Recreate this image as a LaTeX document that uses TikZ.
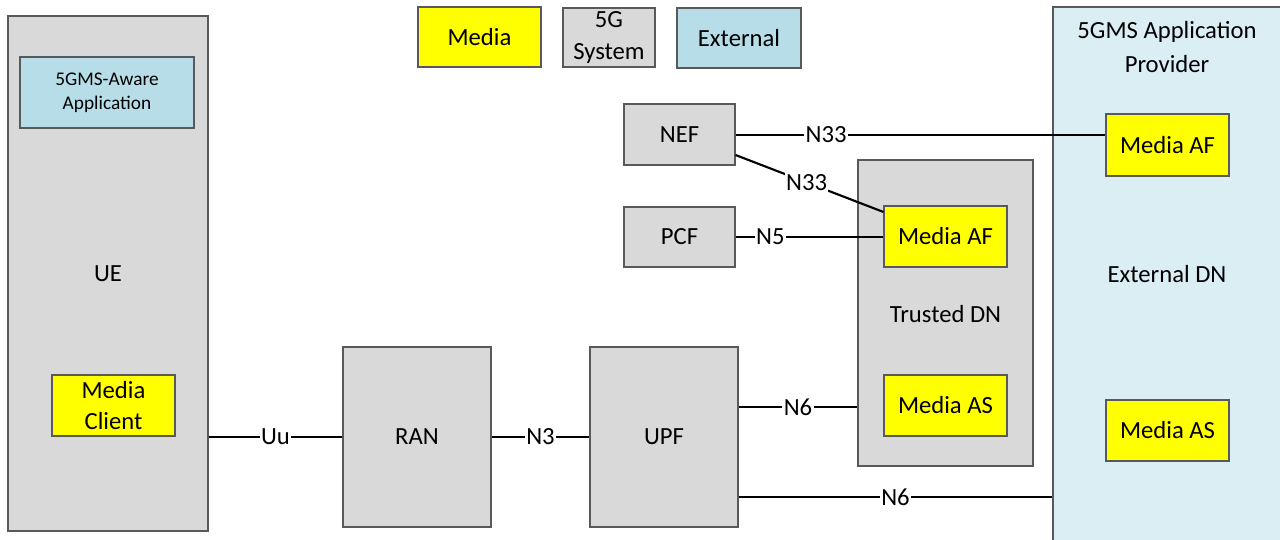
\documentclass[tikz,border=0pt]{standalone}
\usepackage{fontspec}
\setmainfont{Carlito}
\definecolor{boxgray}{HTML}{D9D9D9}
\definecolor{medyellow}{HTML}{FFFF00}
\definecolor{extblue}{HTML}{B7DEE8}
\definecolor{dnblue}{HTML}{DAEEF3}
\definecolor{edge}{HTML}{595959}
\newcommand{\bigtxt}{\fontsize{18.5}{23.5}\selectfont}
\newcommand{\smalltxt}{\fontsize{14.5}{18}\selectfont}
\tikzset{
  fnbox/.style={draw=edge, line width=0.8pt, inner sep=0pt, align=center, font=\bigtxt},
  sysbox/.style={fnbox, fill=boxgray},
  medbox/.style={fnbox, fill=medyellow, minimum width=123*0.75pt, minimum height=61*0.75pt},
  extbox/.style={fnbox, fill=extblue},
  link/.style={line width=1.6pt, black},
  lbl/.style={fill=white, inner sep=1pt, font=\bigtxt},
  plain/.style={inner sep=0pt, align=center, font=\bigtxt}
}
\begin{document}
\begin{tikzpicture}[x=0.75pt, y=-0.75pt]
\useasboundingbox (0,0) rectangle (1280,539);
\clip (0,0) rectangle (1280,539);
% legend
\node[medbox, minimum width=123*0.75pt, minimum height=60*0.75pt] (lgmedia) at (479.5,37) {Media};
\node[sysbox, minimum width=92*0.75pt, minimum height=59*0.75pt] (lg5g) at (609,37.5) {5G\\System};
\node[extbox, minimum width=124*0.75pt, minimum height=60*0.75pt] (lgext) at (739,38) {External};
% UE
\node[sysbox, minimum width=200*0.75pt, minimum height=515*0.75pt] (ue) at (108,273.5) {UE};
\node[extbox, minimum width=174*0.75pt, minimum height=71*0.75pt, font=\smalltxt] (app) at (107,92.5) {5GMS-Aware\\Application};
\node[medbox] (mc) at (113.5,405.5) {Media\\Client};
% RAN, UPF
\node[sysbox, minimum width=148*0.75pt, minimum height=180*0.75pt] (ran) at (417,437) {RAN};
\node[sysbox, minimum width=148*0.75pt, minimum height=180*0.75pt] (upf) at (664,437) {UPF};
% NEF, PCF
\node[sysbox, minimum width=111*0.75pt, minimum height=61*0.75pt] (nef) at (679.5,134.5) {NEF};
\node[sysbox, minimum width=111*0.75pt, minimum height=60*0.75pt] (pcf) at (679.5,237) {PCF};
% Trusted DN
\node[sysbox, minimum width=175*0.75pt, minimum height=306*0.75pt] (tdn) at (945.5,313) {};
\node[plain] (tdnlabel) at (945.5,314) {Trusted DN};
\node[medbox] (taf) at (945.5,236.5) {Media AF};
\node[medbox] (tas) at (945.5,405.5) {Media AS};
% External DN
\node[fnbox, fill=dnblue, minimum width=240*0.75pt, minimum height=550*0.75pt] (edn) at (1173,282) {};
\node[plain] (ednlabel1) at (1167,32) {5GMS Application};
\node[plain] (ednlabel2) at (1167,64) {Provider};
\node[plain] (ednlabel) at (1167,274) {External DN};
\node[medbox, minimum height=62*0.75pt] (xaf) at (1167.5,145) {Media AF};
\node[medbox] (xas) at (1167.5,430.5) {Media AS};
% connectors
\draw[link] (ran.west -| ue.east) -- node[lbl] {Uu} (ran.west);
\draw[link] (ran.east) -- node[lbl] {N3} (upf.west);
\draw[link] (upf.east |- 0,407) -- node[lbl] {N6} (tdn.west |- 0,407);
\draw[link] (upf.east |- 0,497) -- node[lbl] {N6} (edn.west |- 0,497);
\draw[link] (nef.east |- 0,135) -- node[lbl, pos=0.245] {N33} (xaf.west |- 0,135);
\draw[link] (nef.east |- 0,155) -- node[lbl, pos=0.48] {N33} (taf.north west |- 0,212);
\draw[link] (pcf.east) -- node[lbl, pos=0.235] {N5} (taf.west |- pcf.east);
\end{tikzpicture}
\end{document}
